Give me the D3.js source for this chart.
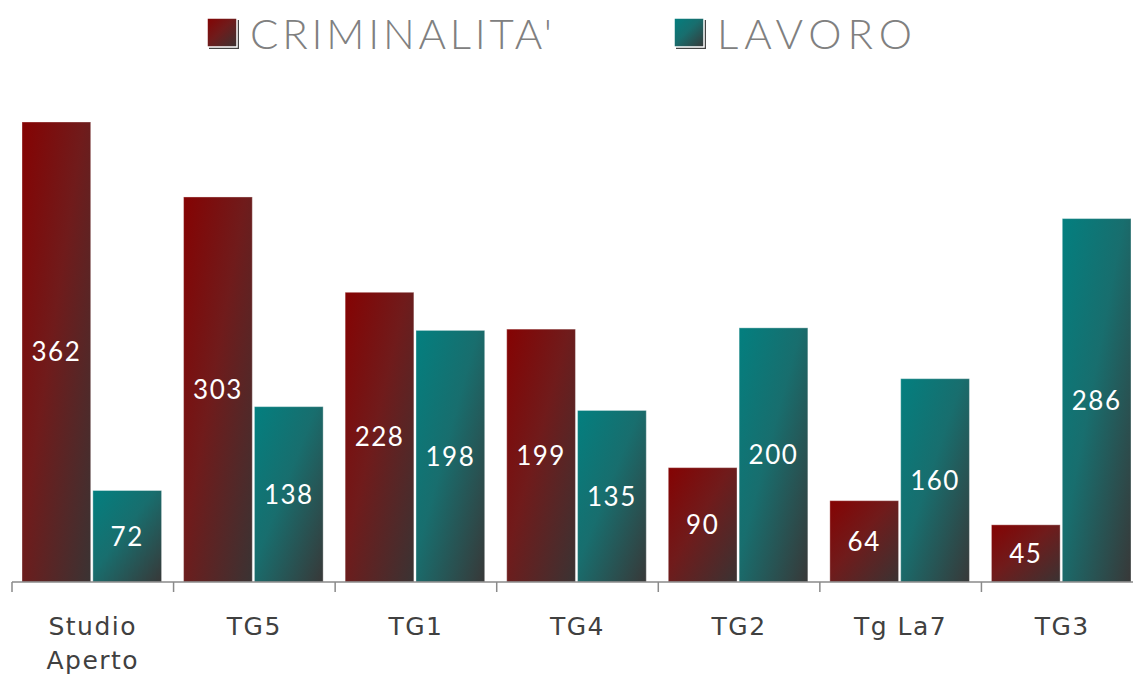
<!DOCTYPE html>
<html>
<head>
<meta charset="utf-8">
<script src="https://cdn.jsdelivr.net/npm/d3@7"></script>
<style>
	body { margin: 0; background: #fff; }
	svg { display: block; overflow: hidden; }
</style>
</head>
<body>
<div id="chart"></div>
<script>

// data
var channels = ["Studio Aperto", "TG5", "TG1", "TG4", "TG2", "Tg La7", "TG3"];
var criminalita = [362, 303, 228, 199, 90, 64, 45];
var lavoro = [72, 138, 198, 135, 200, 160, 286];
var seriesNames = ["CRIMINALITA'", "LAVORO"];

var W = 1133, H = 675;

var series = [
	{ name: seriesNames[0], vals: criminalita, grad: "gradRed", stops: ["#850303", "#701b1b", "#3a3333"] },
	{ name: seriesNames[1], vals: lavoro, grad: "gradTeal", stops: ["#037f7f", "#186e6e", "#383838"] }
];

var svg = d3.select("#chart").append("svg")
	.attr("width", W)
	.attr("height", H);

var defs = svg.append("defs");
series.forEach( s => {
	var g = defs.append("linearGradient")
		.attr("id", s.grad)
		.attr("x1", 0).attr("y1", 0)
		.attr("x2", 1).attr("y2", 1);
	g.append("stop").attr("offset", "0%").attr("stop-color", s.stops[0]);
	g.append("stop").attr("offset", "45%").attr("stop-color", s.stops[1]);
	g.append("stop").attr("offset", "100%").attr("stop-color", s.stops[2]);
});

// scales
var baseY = 582;
var x = d3.scaleBand()
	.domain(channels)
	.range([12, 1143])
	.paddingInner(0)
	.paddingOuter(0);

var xs = d3.scaleBand()
	.domain([0, 1])
	.range([10, x.bandwidth() - 12])
	.paddingInner(0.03);

var y = d3.scaleLinear()
	.domain([0, 362])
	.range([baseY, 122]);

// bars
var groups = svg.selectAll("g.grp")
	.data(channels)
	.join("g")
		.attr("class", "grp")
		.attr("transform", d => `translate(${x(d)},0)`);

series.forEach( (s, si) => {

	groups.append("rect")
		.attr("x", xs(si))
		.attr("y", (d, i) => y(s.vals[i]))
		.attr("width", xs.bandwidth())
		.attr("height", (d, i) => baseY - y(s.vals[i]))
		.attr("fill", `url(#${s.grad})`)
		.attr("stroke", "#fff")
		.attr("stroke-opacity", 0.35)
		.attr("stroke-width", 1);

	groups.append("text")
		.attr("x", xs(si) + xs.bandwidth() / 2)
		.attr("y", (d, i) => (y(s.vals[i]) + baseY) / 2)
		.attr("dy", "0.36em")
		.attr("text-anchor", "middle")
		.attr("fill", "#fff")
		.style("font-family", "Lato, sans-serif")
		.style("font-size", "26px")
		.style("letter-spacing", "1.5px")
		.text( (d, i) => s.vals[i] );

});

// x axis
var axis = svg.append("g")
	.attr("transform", `translate(0,${baseY})`);

axis.append("line")
	.attr("x1", 12).attr("x2", 1143)
	.attr("stroke", "#8a8a8a")
	.attr("stroke-width", 1.5);

axis.selectAll("line.tick")
	.data(channels.concat(["end"]))
	.join("line")
		.attr("class", "tick")
		.attr("x1", (d, i) => i < channels.length ? x(d) : x.range()[1])
		.attr("x2", (d, i) => i < channels.length ? x(d) : x.range()[1])
		.attr("y1", 0).attr("y2", 10)
		.attr("stroke", "#8a8a8a")
		.attr("stroke-width", 1.5);

axis.selectAll("text.lbl")
	.data(channels)
	.join("text")
		.attr("class", "lbl")
		.attr("text-anchor", "middle")
		.attr("fill", "#404040")
		.style("font-family", "'DejaVu Sans', sans-serif")
		.style("font-size", "25px")
		.style("letter-spacing", "1.5px")
		.each( function(d)	{
			var words = d === "Studio Aperto" ? ["Studio", "Aperto"] : [d];
			var t = d3.select(this);
			words.forEach( (w, k) => {
				t.append("tspan")
					.attr("x", x(d) + x.bandwidth() / 2)
					.attr("y", 53 + k * 34)
					.text(w);
			});
		});

// legend
var legX = [207, 674];
var leg = svg.selectAll("g.leg")
	.data(series)
	.join("g")
		.attr("class", "leg")
		.attr("transform", (d, i) => `translate(${legX[i]},18)`);

leg.append("rect")
	.attr("x", 2).attr("y", 2)
	.attr("width", 30).attr("height", 29)
	.attr("fill", "#444");

leg.append("rect")
	.attr("width", 30).attr("height", 29)
	.attr("fill", d => `url(#${d.grad})`)
	.attr("stroke", "#fff")
	.attr("stroke-width", 1.5);

leg.append("text")
	.attr("x", 43)
	.attr("y", 31)
	.attr("fill", "#808080")
	.style("font-family", "Lato, sans-serif")
	.style("font-weight", 300)
	.style("font-size", "42px")
	.attr("textLength", (d, i) => i === 0 ? 302 : 195)
	.attr("lengthAdjust", "spacing")
	.text(d => d.name);

</script>
</body>
</html>
